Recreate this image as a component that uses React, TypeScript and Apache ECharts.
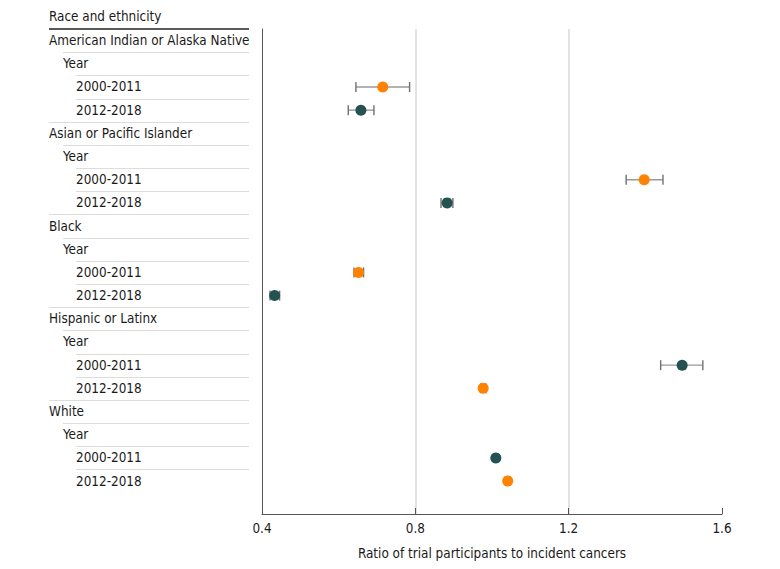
import React, { useEffect, useRef } from "react";
import * as echarts from "echarts";

const FONT = "'Liberation Sans Narrow', 'DejaVu Sans Condensed', Lato, sans-serif";
const FS = 13.4;

const rowLabels = [
  "American Indian or Alaska Native", "Year", "2000-2011", "2012-2018",
  "Asian or Pacific Islander", "Year", "2000-2011", "2012-2018",
  "Black", "Year", "2000-2011", "2012-2018",
  "Hispanic or Latinx", "Year", "2000-2011", "2012-2018",
  "White", "Year", "2000-2011", "2012-2018",
];
const rowLevels = [0, 1, 2, 2, 0, 1, 2, 2, 0, 1, 2, 2, 0, 1, 2, 2, 0, 1, 2, 2];

const pointRows = [2, 3, 6, 7, 10, 11, 14, 15, 18, 19];
const estimates = [0.715, 0.658, 1.397, 0.883, 0.652, 0.433, 1.496, 0.977, 1.010, 1.041];
const lowerCI = [0.645, 0.625, 1.350, 0.867, 0.640, 0.421, 1.440, 0.971, 1.005, 1.035];
const upperCI = [0.785, 0.692, 1.446, 0.898, 0.665, 0.446, 1.550, 0.984, 1.015, 1.047];
const pointGroup = [0, 1, 0, 1, 0, 1, 1, 0, 1, 0];
const groupColors = ["#FF8200", "#245250"];

const xTicks = { min: 0.4, max: 1.6, interval: 0.4 };
const xTitle = "Ratio of trial participants to incident cancers";
const headerTitle = "Race and ethnicity";

const INDENTS = [49, 63, 76];
const TABLE_RIGHT = 249;

export default function App() {
  const ref = useRef<HTMLDivElement>(null);
  useEffect(() => {
    if (!ref.current) return;
    const chart = echarts.init(ref.current, undefined, { renderer: "svg" });
    const option: any = {
      animation: false,
      backgroundColor: "#fff",
      grid: { left: 262, right: 58, top: 29, bottom: 55, containLabel: false },
      xAxis: {
        type: "value",
        min: xTicks.min,
        max: xTicks.max,
        interval: xTicks.interval,
        name: xTitle,
        nameLocation: "middle",
        nameGap: 33,
        nameTextStyle: { color: "#1a1a1a", fontSize: FS, fontFamily: FONT },
        axisLine: { show: true, onZero: false, lineStyle: { color: "#555", width: 1 } },
        axisTick: { show: true, inside: true, length: 6, lineStyle: { color: "#555" } },
        axisLabel: {
          color: "#1a1a1a", fontSize: FS, fontFamily: FONT, margin: 8,
          formatter: (v: number) => v.toFixed(1),
        },
        splitLine: { show: true, showMinLine: false, showMaxLine: false, lineStyle: { color: "#d9d9d9", width: 1.5 } },
      },
      yAxis: {
        type: "value",
        inverse: true,
        min: -0.5,
        max: 20.42,
        axisLine: { show: true, onZero: false, lineStyle: { color: "#555", width: 1 } },
        axisTick: { show: false },
        axisLabel: { show: false },
        splitLine: { show: false },
      },
      graphic: [
        {
          type: "text",
          left: 49,
          top: 10,
          style: { text: headerTitle, fill: "#1a1a1a", fontSize: FS, fontFamily: FONT },
        },
        {
          type: "line",
          shape: { x1: 49, y1: 29, x2: TABLE_RIGHT, y2: 29 },
          style: { stroke: "#222", lineWidth: 1.5 },
          z: 100,
        },
      ],
      series: [
        {
          type: "custom",
          clip: false,
          silent: true,
          data: rowLabels.map((_, i) => [xTicks.min, i]),
          encode: { x: 0, y: 1 },
          renderItem: (params: any, api: any) => {
            const idx = params.dataIndex;
            const cy = api.coord([xTicks.min, api.value(1)])[1];
            const h = api.size([0, 1])[1];
            const indent = INDENTS[rowLevels[idx]];
            const children: any[] = [
              {
                type: "text",
                x: indent,
                y: cy,
                style: {
                  text: rowLabels[idx],
                  fill: "#1a1a1a",
                  fontSize: FS,
                  fontFamily: FONT,
                  verticalAlign: "middle",
                  align: "left",
                },
              },
            ];
            if (idx > 0) {
              const yy = Math.round(cy - h / 2) + 0.5;
              children.push({
                type: "line",
                shape: { x1: indent, y1: yy, x2: TABLE_RIGHT, y2: yy },
                style: { stroke: "#dcdcdc", lineWidth: 1 },
              });
            }
            return { type: "group", children };
          },
        },
        {
          type: "custom",
          clip: false,
          silent: true,
          data: pointRows.map((r, i) => [lowerCI[i], upperCI[i], r]),
          encode: { x: [0, 1], y: 2 },
          renderItem: (params: any, api: any) => {
            const row = api.value(2);
            const p1 = api.coord([api.value(0), row]);
            const p2 = api.coord([api.value(1), row]);
            const cap = 5;
            const st = { stroke: "#707070", lineWidth: 1.4 };
            return {
              type: "group",
              children: [
                { type: "line", shape: { x1: p1[0], y1: p1[1], x2: p2[0], y2: p2[1] }, style: { ...st, stroke: "#999" } },
                { type: "line", shape: { x1: p1[0], y1: p1[1] - cap, x2: p1[0], y2: p1[1] + cap }, style: st },
                { type: "line", shape: { x1: p2[0], y1: p2[1] - cap, x2: p2[0], y2: p2[1] + cap }, style: st },
              ],
            };
          },
          z: 3,
        },
        {
          type: "scatter",
          symbol: "circle",
          symbolSize: 11,
          data: pointRows.map((r, i) => ({
            value: [estimates[i], r],
            itemStyle: { color: groupColors[pointGroup[i]], opacity: 1 },
          })),
          itemStyle: { opacity: 1 },
          z: 5,
        },
      ],
    };
    chart.setOption(option);
    return () => chart.dispose();
  }, []);
  return <div ref={ref} style={{ width: 780, height: 569, position: "absolute", left: 0, top: 0 }} />;
}
